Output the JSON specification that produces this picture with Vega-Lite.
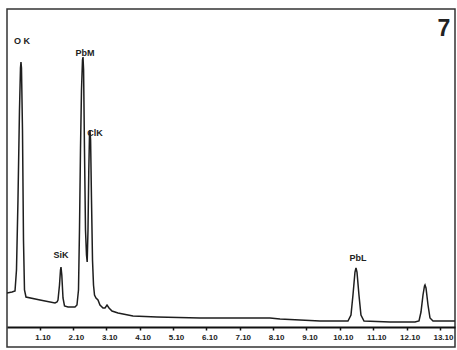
{
  "$schema": "https://vega.github.io/schema/vega-lite/v6.json",
  "width": 448,
  "height": 338,
  "autosize": {"type": "none"},
  "padding": {"left": 7, "top": 9, "right": 2, "bottom": 3},
  "background": "white",
  "config": {
    "view": {"stroke": "#333333", "strokeWidth": 1.5},
    "font": "Liberation Sans"
  },
  "datasets": {
    "spectrum": [
      {"keV": 0.126, "counts": 34}, {"keV": 0.276, "counts": 35}, {"keV": 0.366, "counts": 36},
      {"keV": 0.410, "counts": 57}, {"keV": 0.455, "counts": 127}, {"keV": 0.500, "counts": 217},
      {"keV": 0.530, "counts": 259}, {"keV": 0.545, "counts": 265}, {"keV": 0.560, "counts": 259},
      {"keV": 0.590, "counts": 197}, {"keV": 0.620, "counts": 87}, {"keV": 0.650, "counts": 37},
      {"keV": 0.695, "counts": 30}, {"keV": 1.115, "counts": 27}, {"keV": 1.564, "counts": 24},
      {"keV": 1.624, "counts": 25}, {"keV": 1.654, "counts": 27}, {"keV": 1.699, "counts": 42},
      {"keV": 1.729, "counts": 57}, {"keV": 1.744, "counts": 60}, {"keV": 1.768, "counts": 52},
      {"keV": 1.804, "counts": 29}, {"keV": 1.849, "counts": 21}, {"keV": 1.954, "counts": 20},
      {"keV": 2.163, "counts": 20}, {"keV": 2.223, "counts": 22}, {"keV": 2.268, "counts": 37},
      {"keV": 2.298, "counts": 97}, {"keV": 2.328, "counts": 177}, {"keV": 2.358, "counts": 237},
      {"keV": 2.388, "counts": 267}, {"keV": 2.403, "counts": 270}, {"keV": 2.421, "counts": 257},
      {"keV": 2.448, "counts": 177}, {"keV": 2.478, "counts": 97}, {"keV": 2.508, "counts": 72},
      {"keV": 2.529, "counts": 65}, {"keV": 2.553, "counts": 97}, {"keV": 2.577, "counts": 157},
      {"keV": 2.598, "counts": 192}, {"keV": 2.613, "counts": 197}, {"keV": 2.631, "counts": 187},
      {"keV": 2.658, "counts": 127}, {"keV": 2.688, "counts": 67}, {"keV": 2.718, "counts": 42},
      {"keV": 2.748, "counts": 32}, {"keV": 2.793, "counts": 29}, {"keV": 2.852, "counts": 27},
      {"keV": 2.912, "counts": 22}, {"keV": 3.003, "counts": 19}, {"keV": 3.063, "counts": 19},
      {"keV": 3.123, "counts": 22}, {"keV": 3.183, "counts": 19}, {"keV": 3.272, "counts": 16},
      {"keV": 3.452, "counts": 14}, {"keV": 3.901, "counts": 11}, {"keV": 4.620, "counts": 10},
      {"keV": 5.909, "counts": 9}, {"keV": 7.107, "counts": 9}, {"keV": 8.006, "counts": 9},
      {"keV": 8.306, "counts": 8}, {"keV": 8.905, "counts": 7}, {"keV": 9.504, "counts": 6},
      {"keV": 10.253, "counts": 6}, {"keV": 10.343, "counts": 6}, {"keV": 10.433, "counts": 12},
      {"keV": 10.493, "counts": 32}, {"keV": 10.553, "counts": 55}, {"keV": 10.583, "counts": 59},
      {"keV": 10.613, "counts": 55}, {"keV": 10.672, "counts": 32}, {"keV": 10.732, "counts": 12},
      {"keV": 10.823, "counts": 6}, {"keV": 11.602, "counts": 5}, {"keV": 12.351, "counts": 5},
      {"keV": 12.471, "counts": 6}, {"keV": 12.531, "counts": 15}, {"keV": 12.591, "counts": 32},
      {"keV": 12.636, "counts": 41}, {"keV": 12.651, "counts": 42}, {"keV": 12.681, "counts": 39},
      {"keV": 12.741, "counts": 22}, {"keV": 12.801, "counts": 9}, {"keV": 12.891, "counts": 6},
      {"keV": 13.549, "counts": 6}
    ],
    "peaks": [
      {"label": "O K", "keV": 0.575, "counts": 286},
      {"label": "PbM", "keV": 2.463, "counts": 274},
      {"label": "ClK", "keV": 2.762, "counts": 194},
      {"label": "SiK", "keV": 1.744, "counts": 72},
      {"label": "PbL", "keV": 10.643, "counts": 69}
    ],
    "panel": [
      {"label": "7", "keV": 13.22, "counts": 298}
    ]
  },
  "encoding": {
    "x": {
      "field": "keV", "type": "quantitative",
      "scale": {"domain": [0.126, 13.55], "nice": false, "zero": false},
      "axis": {
        "orient": "bottom", "offset": -20, "title": null, "grid": false,
        "values": [1.1, 2.1, 3.1, 4.1, 5.1, 6.1, 7.1, 8.1, 9.1, 10.1, 11.1, 12.1, 13.1],
        "labelExpr": "format(datum.value, '.2f')",
        "labelOverlap": false, "labelBound": false, "labelFlush": false, "labelSeparation": 0,
        "domainColor": "#111111", "domainWidth": 2,
        "tickColor": "#111111", "tickSize": 3, "tickWidth": 1.5,
        "labelFontSize": 8, "labelFontWeight": "bold", "labelColor": "#222222",
        "labelPadding": 3, "labelOffset": 3, "labelFont": "Liberation Sans"
      }
    },
    "y": {
      "field": "counts", "type": "quantitative",
      "scale": {"domain": [-20, 318], "nice": false, "zero": false},
      "axis": null
    }
  },
  "layer": [
    {
      "data": {"name": "spectrum"},
      "mark": {"type": "line", "color": "#1e1e1e", "strokeWidth": 1.5, "clip": true}
    },
    {
      "data": {"name": "peaks"},
      "mark": {"type": "text", "fontSize": 9, "fontWeight": "bold", "color": "#222222", "align": "center", "baseline": "middle", "font": "Liberation Sans"},
      "encoding": {"text": {"field": "label"}}
    },
    {
      "data": {"name": "panel"},
      "mark": {"type": "text", "fontSize": 23, "fontWeight": "bold", "color": "#222222", "align": "center", "baseline": "middle", "font": "Liberation Sans"},
      "encoding": {"text": {"field": "label"}}
    }
  ]
}
